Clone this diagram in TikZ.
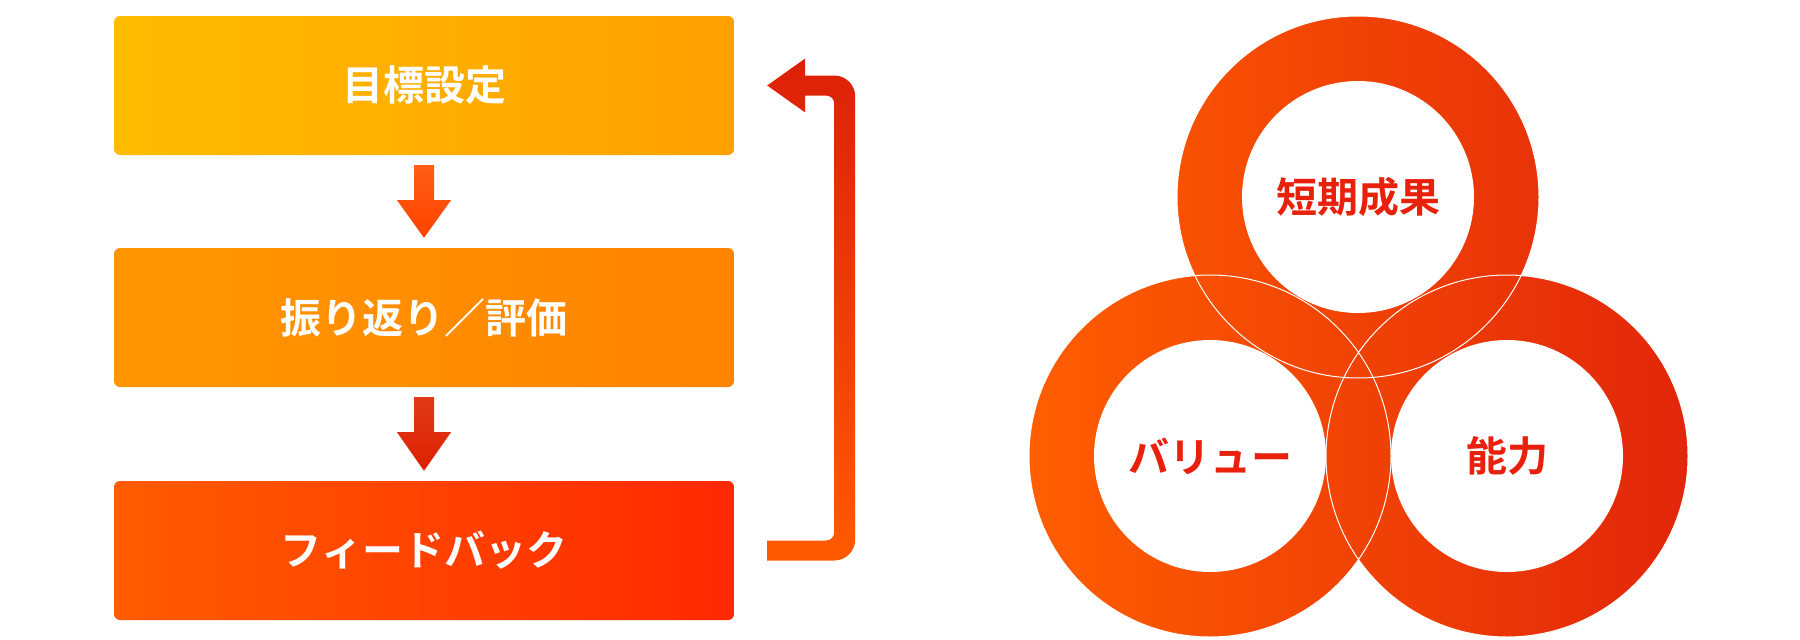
\documentclass[tikz,border=0pt]{standalone}
\usepackage{fontspec}
\newfontfamily\cjk{Noto Sans CJK JP Bold}
\usetikzlibrary{calc}
\definecolor{bOneL}{HTML}{FFBC00}
\definecolor{bOneR}{HTML}{FFA000}
\definecolor{bTwoL}{HTML}{FF9600}
\definecolor{bTwoR}{HTML}{FF8400}
\definecolor{bThrL}{HTML}{FF5C00}
\definecolor{bThrR}{HTML}{FF2800}
\definecolor{aOneT}{HTML}{FF5E14}
\definecolor{aOneB}{HTML}{FF4200}
\definecolor{aTwoT}{HTML}{E03A18}
\definecolor{aTwoB}{HTML}{DC2000}
\definecolor{fbTop}{HTML}{DC2008}
\definecolor{fbBot}{HTML}{FF5A00}
\definecolor{ringL}{HTML}{FF5E00}
\definecolor{ringR}{HTML}{E2260A}
\definecolor{ringText}{HTML}{E8200C}
\tikzset{
  stepbox/.style={rectangle, rounded corners=6pt, minimum width=620pt, minimum height=139pt,
    inner sep=0pt, text=white, font=\cjk\fontsize{41pt}{48pt}\selectfont},
  ringlabel/.style={inner sep=0pt, text=ringText, font=\cjk\fontsize{41pt}{48pt}\selectfont},
  ringline/.style={draw=white, line width=1pt}
}
\begin{document}
\begin{tikzpicture}[x=1pt,y=-1pt]
\useasboundingbox (0,0) rectangle (1800,640);
% boxes
\node[stepbox, left color=bOneL, right color=bOneR] (b1) at (424,85.5) {目標設定};
\node[stepbox, left color=bTwoL, right color=bTwoR] (b2) at (424,317.5) {振り返り／評価};
\node[stepbox, left color=bThrL, right color=bThrR] (b3) at (424,550.5) {フィードバック};
% down arrows
\shade[top color=aOneT, bottom color=aOneB]
  ($(b1.south)+(-10,10)$) -- ($(b1.south)+(10,10)$) -- ($(b1.south)+(10,45)$) -- ($(b1.south)+(27,45)$)
  -- ($(b2.north)+(0,-10)$) -- ($(b1.south)+(-27,45)$) -- ($(b1.south)+(-10,45)$) -- cycle;
\shade[top color=aTwoT, bottom color=aTwoB]
  ($(b2.south)+(-10,10)$) -- ($(b2.south)+(10,10)$) -- ($(b2.south)+(10,45)$) -- ($(b2.south)+(27,45)$)
  -- ($(b3.north)+(0,-10)$) -- ($(b2.south)+(-27,45)$) -- ($(b2.south)+(-10,45)$) -- cycle;
% feedback arrow
\coordinate (fbS) at ($(b3.east)+(33,0)$);
\coordinate (fbE) at ($(b1.east)+(33,0)$);
\shade[top color=fbTop, bottom color=fbBot]
  ($(fbS)+(0,-10)$) [rounded corners=8pt] -- ($(fbS)+(67,-10)$) -- ($(fbE)+(67,10)$) [sharp corners] -- ($(fbE)+(38,10)$)
  -- ($(fbE)+(38,27)$) -- (fbE) -- ($(fbE)+(38,-27)$) -- ($(fbE)+(38,-10)$)
  [rounded corners=21pt] -- ($(fbE)+(88,-10)$) -- ($(fbS)+(88,10)$) [sharp corners] -- ($(fbS)+(0,10)$) -- cycle;
% rings
\coordinate (cT) at (1358,197);
\coordinate (cL) at (1210,456);
\coordinate (cR) at (1507,456);
\shade[left color=ringL, right color=ringR]
  (cT) circle[radius=181pt] (cL) circle[radius=181pt] (cR) circle[radius=181pt];
\fill[white] (cT) circle[radius=116pt] (cL) circle[radius=116pt] (cR) circle[radius=116pt];
\draw[ringline] (cT) circle[radius=181pt] (cL) circle[radius=181pt] (cR) circle[radius=181pt];
\node[ringlabel] (t1) at (cT) {短期成果};
\node[ringlabel] (t2) at (cL) {バリュー};
\node[ringlabel] (t3) at (cR) {能力};
\end{tikzpicture}
\end{document}
